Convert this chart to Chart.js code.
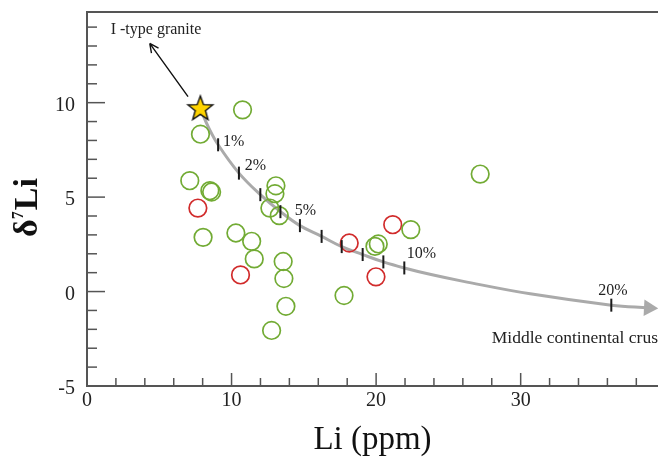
<!DOCTYPE html>
<html>
<head>
<meta charset="utf-8">
<script src="https://cdn.jsdelivr.net/npm/chart.js@4.4.1/dist/chart.umd.min.js"></script>
<style>
  html, body { margin: 0; padding: 0; background: #fff; }
</style>
</head>
<body>
<canvas id="chart" width="658" height="460"></canvas>
<script>
// sample data (Li in ppm, d7Li in permil)
const greenLi = [10.76, 7.85, 7.11, 8.50, 8.62, 13.07, 13.0, 12.65, 13.30, 8.03, 10.30,
  11.39, 11.57, 13.57, 13.62, 13.76, 12.77, 17.78, 19.92, 20.15, 22.40, 27.2];
const greenD7Li = [9.62, 8.33, 5.87, 5.34, 5.27, 5.60, 5.18, 4.42, 4.02, 2.87, 3.10,
  2.66, 1.73, 1.59, 0.69, -0.78, -2.06, -0.21, 2.39, 2.52, 3.28, 6.22];

const redLi = [7.67, 10.62, 18.14, 21.15, 19.99];
const redD7Li = [4.42, 0.88, 2.57, 3.54, 0.78];

// I-type granite end member
const starLi = [7.84];
const starD7Li = [9.67];

// mixing curve towards middle continental crust
const curveLi = [7.84, 8.4, 9.07, 10.51, 11.99, 13.38, 14.73, 16.23, 17.62, 19.07, 20.50,
  21.95, 23.8, 26.04, 30.66, 36.27, 38.86];
const curveD7Li = [9.67, 8.7, 7.77, 6.27, 5.13, 4.23, 3.49, 2.92, 2.38, 1.96, 1.57,
  1.25, 0.9, 0.54, -0.12, -0.72, -0.87];

// 1% .. 10% and 20% marks on the curve
const markLi = [9.07, 10.51, 11.99, 13.38, 14.73, 16.23, 17.62, 19.07, 20.50, 21.95, 36.27];
const markD7Li = [7.77, 6.27, 5.13, 4.23, 3.49, 2.92, 2.38, 1.96, 1.57, 1.25, -0.72];

// text labels: [text, Li, d7Li, size]
const notes = [
  ['1%', 9.40, 7.68, 16],
  ['2%', 10.92, 6.45, 16],
  ['5%', 14.38, 4.07, 16],
  ['10%', 22.12, 1.78, 16],
  ['20%', 35.37, -0.20, 16],
  ['I -type granite', 1.64, 13.64, 16],
  ['Middle continental crust', 28.0, -2.70, 17.5]
];
const graniteArrow = [[6.99, 10.32], [4.34, 13.14]];

const pts = (xs, ys) => xs.map((v, i) => ({ x: v, y: ys[i] }));

const SERIF = "'Liberation Serif', 'Times New Roman', serif";
const AXIS = '#555';
const INK = '#222';
Chart.defaults.font.family = SERIF;
Chart.defaults.color = INK;

// yellow star marker
const star = document.createElement('canvas');
star.width = 30; star.height = 30;
(function () {
  const c = star.getContext('2d');
  c.beginPath();
  for (let i = 0; i < 10; i++) {
    const r = i % 2 === 0 ? 13 : 5.4;
    const a = -Math.PI / 2 + i * Math.PI / 5;
    c.lineTo(15 + r * Math.cos(a), 15 + r * Math.sin(a));
  }
  c.closePath();
  c.fillStyle = '#ffd400';
  c.fill();
  c.lineWidth = 1.4;
  c.strokeStyle = '#111';
  c.stroke();
})();

const decor = {
  id: 'decor',
  afterDraw(chart) {
    const { ctx, chartArea: a, scales: { x, y } } = chart;
    ctx.save();
    ctx.strokeStyle = AXIS;
    ctx.lineWidth = 2;
    ctx.beginPath();
    ctx.moveTo(a.left - 1, a.top);
    ctx.lineTo(a.right, a.top);
    ctx.stroke();

    // inward tick marks
    ctx.lineWidth = 1.5;
    x.ticks.forEach(t => {
      if (t.value === 0) return;
      const px = x.getPixelForValue(t.value);
      const len = t.value % 10 === 0 ? 13 : 8;
      ctx.beginPath();
      ctx.moveTo(px, a.bottom);
      ctx.lineTo(px, a.bottom - len);
      ctx.stroke();
    });
    y.ticks.forEach(t => {
      if (t.value === -5) return;
      const py = y.getPixelForValue(t.value);
      const len = t.value % 5 === 0 ? 18 : 10;
      ctx.beginPath();
      ctx.moveTo(a.left, py);
      ctx.lineTo(a.left + len, py);
      ctx.stroke();
    });

    // arrow to I-type granite
    const [p0, p1] = graniteArrow.map(p => [x.getPixelForValue(p[0]), y.getPixelForValue(p[1])]);
    ctx.strokeStyle = '#111';
    ctx.lineWidth = 1.4;
    ctx.beginPath();
    ctx.moveTo(p0[0], p0[1]);
    ctx.lineTo(p1[0], p1[1]);
    const ang = Math.atan2(p1[1] - p0[1], p1[0] - p0[0]);
    for (const s of [-1, 1]) {
      ctx.moveTo(p1[0], p1[1]);
      ctx.lineTo(p1[0] - 10 * Math.cos(ang + s * 0.45), p1[1] - 10 * Math.sin(ang + s * 0.45));
    }
    ctx.stroke();

    // annotations
    ctx.fillStyle = INK;
    ctx.textAlign = 'left';
    ctx.textBaseline = 'alphabetic';
    notes.forEach(([txt, lx, ly, size]) => {
      ctx.font = size + 'px ' + SERIF;
      ctx.fillText(txt, x.getPixelForValue(lx), y.getPixelForValue(ly));
    });

    // y axis title: d7Li
    ctx.translate(37, 208);
    ctx.rotate(-Math.PI / 2);
    const big = 'bold 34px ' + SERIF;
    const small = 'bold 16px ' + SERIF;
    ctx.font = big;
    const wd = ctx.measureText('δ').width;
    const wl = ctx.measureText('Li').width;
    ctx.font = small;
    const w7 = ctx.measureText('7').width;
    let sx = -(wd + w7 + wl) / 2;
    ctx.fillStyle = '#111';
    ctx.font = big;
    ctx.fillText('δ', sx, 0);
    sx += wd;
    ctx.font = small;
    ctx.fillText('7', sx, -14);
    sx += w7 + 1;
    ctx.font = big;
    ctx.fillText('Li', sx, 0);
    ctx.restore();
  }
};

new Chart(document.getElementById('chart'), {
  type: 'scatter',
  data: {
    datasets: [
      {
        label: 'I-type granite',
        data: pts(starLi, starD7Li),
        pointStyle: star,
        order: 0
      },
      {
        label: 'mixing marks',
        data: pts(markLi, markD7Li),
        pointStyle: 'line',
        rotation: 90,
        pointRadius: 6.5,
        borderColor: '#1a1a1a',
        borderWidth: 2,
        order: 1
      },
      {
        label: 'green',
        data: pts(greenLi, greenD7Li),
        pointRadius: 8.8,
        borderWidth: 1.7,
        borderColor: '#72ab34',
        backgroundColor: 'rgba(0,0,0,0)',
        order: 2
      },
      {
        label: 'red',
        data: pts(redLi, redD7Li),
        pointRadius: 8.8,
        borderWidth: 1.7,
        borderColor: '#d12b2b',
        backgroundColor: 'rgba(0,0,0,0)',
        order: 2
      },
      {
        label: 'mixing curve',
        data: pts(curveLi, curveD7Li),
        showLine: true,
        tension: 0.4,
        borderColor: '#aaaaaa',
        borderWidth: 3,
        pointRadius: 0,
        order: 3
      },
      {
        label: 'arrow head',
        data: pts(curveLi.slice(-1), curveD7Li.slice(-1)),
        pointStyle: 'triangle',
        rotation: 93,
        pointRadius: 9.5,
        borderWidth: 0,
        backgroundColor: '#aaaaaa',
        order: 3
      }
    ]
  },
  options: {
    responsive: false,
    animation: false,
    events: [],
    layout: { autoPadding: false, padding: { top: 12, right: 0, left: 0, bottom: 0 } },
    plugins: { legend: { display: false }, tooltip: { enabled: false } },
    scales: {
      x: {
        type: 'linear',
        min: 0,
        max: 39.5,
        afterFit: s => { s.height = 74; },
        grid: { display: false, drawTicks: false },
        border: { display: true, color: AXIS, width: 2 },
        ticks: {
          stepSize: 2,
          includeBounds: false,
          autoSkip: false,
          maxRotation: 0,
          padding: 3,
          color: INK,
          font: { size: 20 },
          callback: v => (v % 10 === 0 ? v : '')
        },
        title: {
          display: true,
          text: 'Li (ppm)',
          color: '#111',
          font: { size: 33 },
          padding: 0
        }
      },
      y: {
        min: -5,
        max: 14.8,
        afterFit: s => { s.width = 87; s.paddingTop = 0; s.paddingBottom = 0; },
        grid: { display: false, drawTicks: false },
        border: { display: true, color: AXIS, width: 2 },
        ticks: {
          stepSize: 1,
          includeBounds: false,
          autoSkip: false,
          padding: 12,
          labelOffset: 3,
          color: INK,
          font: { size: 20 },
          callback: v => (v % 5 === 0 ? v : '')
        }
      }
    }
  },
  plugins: [decor]
});
</script>
</body>
</html>
